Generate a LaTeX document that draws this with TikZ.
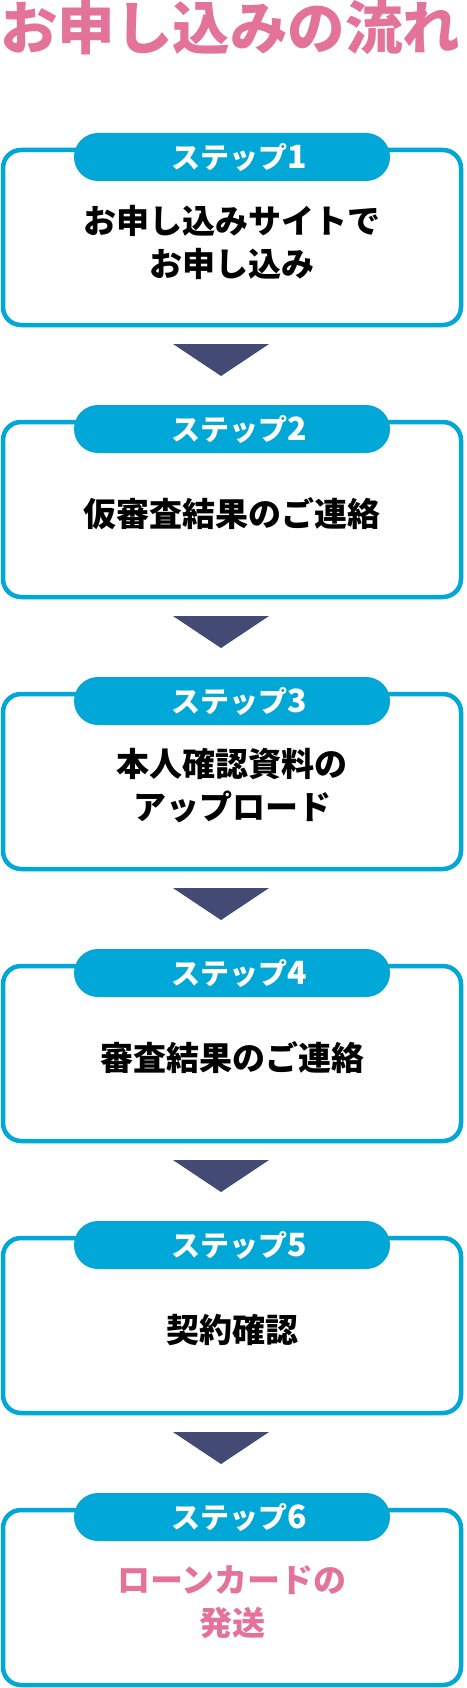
\documentclass[tikz,border=0pt]{standalone}
\usepackage{fontspec}
\usepackage{tikz}
\usetikzlibrary{positioning, calc}
\newfontfamily\jpfont{Noto Sans CJK JP}
\definecolor{celeste}{RGB}{0,167,215}
\definecolor{rosado}{RGB}{228,115,154}
\definecolor{marino}{RGB}{67,75,117}
\tikzset{>=stealth}
\tikzset{stepbox/.style={draw=celeste, line width=4.5pt, rounded corners=18pt, minimum width=458pt, minimum height=175pt, outer sep=0pt, inner sep=0pt},
	steppill/.style={fill=celeste, rounded corners=24pt, minimum width=316pt, minimum height=48pt, inner sep=0pt, text=white, font=\jpfont\bfseries\fontsize{29}{29}\selectfont},
	steptext/.style={align=center, font=\jpfont\bfseries\fontsize{33}{43}\selectfont}}

\begin{document}
\begin{tikzpicture}[x=1pt, y=-1pt]
			\useasboundingbox (0,0) rectangle (466,1688);
			\node[anchor=base west, inner sep=0pt, text=rosado, font=\jpfont\bfseries\fontsize{57.5}{57.5}\selectfont] (titulo) at (0,50) {お申し込みの流れ};

			\foreach \i/\txt/\col in {1/{お申し込みサイトで\\お申し込み}/black, 2/{仮審査結果のご連絡}/black, 3/{本人確認資料の\\アップロード}/black, 4/{審査結果のご連絡}/black, 5/{契約確認}/black, 6/{ローンカードの\\発送}/rosado}{
				\node[stepbox] (box\i) at (232, {237.5+272*(\i-1)}) {};
				\node[steppill] (pill\i) at ([yshift=-7pt]box\i.north) {};
				\node[text=white, font=\jpfont\bfseries\fontsize{29}{29}\selectfont] (lbl\i) at ([xshift=7pt]pill\i.center) {ステップ{\fontsize{32}{32}\selectfont\i}};
				\node[steptext, text=\col] (txt\i) at ([yshift=-92pt]box\i.north) {\txt};
			}

			% flechas entre pasos
			\foreach \i in {1,...,5}
				\fill[marino] ([xshift=-59pt,yshift=-19pt]box\i.south) -- ([xshift=37pt,yshift=-19pt]box\i.south) -- ([xshift=-11pt,yshift=-51pt]box\i.south) -- cycle;
		\end{tikzpicture}
\end{document}
